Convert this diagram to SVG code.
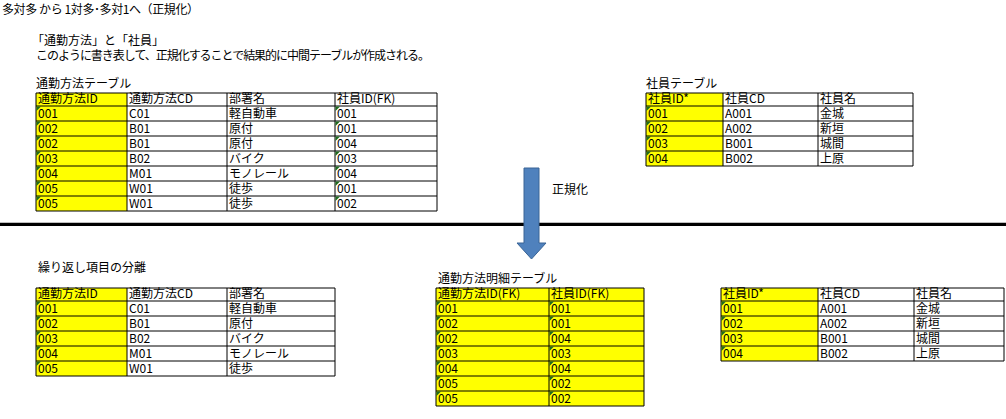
<svg xmlns="http://www.w3.org/2000/svg" width="1006" height="419" viewBox="0 0 1006 419">
<defs>
<style>
text{font-family:"Noto Sans CJK JP","Noto Sans",sans-serif;font-size:12px;fill:#000}
.y{fill:#ffff00}
.g{stroke:#000;stroke-width:1;fill:none}
.tri{fill:#1f6b1f}
</style>
<polygon id="tr" class="tri" points="0.5,0.5 5,0.5 0.5,5"/>
</defs>
<rect width="1006" height="419" fill="#fff"/>
<g id="titles">
<text x="2" y="14" textLength="197" lengthAdjust="spacing">多対多 から 1対多･多対1へ（正規化）</text>
<text x="32" y="45">「通勤方法」と「社員」</text>
<text x="36" y="60" textLength="394" lengthAdjust="spacing">このように書き表して、正規化することで結果的に中間テーブルが作成される。</text>
<text x="36" y="88">通勤方法テーブル</text>
<text x="646" y="88">社員テーブル</text>
<text x="38" y="272">繰り返し項目の分離</text>
<text x="438" y="283">通勤方法明細テーブル</text>
</g>
<g id="table-tsukin">
<rect class="y" x="36" y="93" width="91" height="118"/>
<path class="g" d="M36,93H437V211H36Z M127,93V211 M227,93V211 M335,93V211 M36,106H437 M36,121H437 M36,136H437 M36,151H437 M36,166H437 M36,181H437 M36,196H437"/>
<g>
<use href="#tr" x="36" y="106"/><use href="#tr" x="36" y="121"/><use href="#tr" x="36" y="136"/><use href="#tr" x="36" y="151"/><use href="#tr" x="36" y="166"/><use href="#tr" x="36" y="181"/><use href="#tr" x="36" y="196"/>
<use href="#tr" x="335" y="106"/><use href="#tr" x="335" y="121"/><use href="#tr" x="335" y="136"/><use href="#tr" x="335" y="151"/><use href="#tr" x="335" y="166"/><use href="#tr" x="335" y="181"/><use href="#tr" x="335" y="196"/>
</g>
<text x="38" y="103">通勤方法ID</text><text x="129" y="103">通勤方法CD</text><text x="229" y="103">部署名</text><text x="337" y="103">社員ID(FK)</text>
<text x="38" y="118">001</text><text x="129" y="118">C01</text><text x="229" y="118">軽自動車</text><text x="337" y="118">001</text>
<text x="38" y="133">002</text><text x="129" y="133">B01</text><text x="229" y="133">原付</text><text x="337" y="133">001</text>
<text x="38" y="148">002</text><text x="129" y="148">B01</text><text x="229" y="148">原付</text><text x="337" y="148">004</text>
<text x="38" y="163">003</text><text x="129" y="163">B02</text><text x="229" y="163">バイク</text><text x="337" y="163">003</text>
<text x="38" y="178">004</text><text x="129" y="178">M01</text><text x="229" y="178">モノレール</text><text x="337" y="178">004</text>
<text x="38" y="193">005</text><text x="129" y="193">W01</text><text x="229" y="193">徒歩</text><text x="337" y="193">001</text>
<text x="38" y="208">005</text><text x="129" y="208">W01</text><text x="229" y="208">徒歩</text><text x="337" y="208">002</text>
</g>
<g id="table-shain">
<rect class="y" x="646" y="93" width="77" height="73"/>
<path class="g" d="M646,93H913V166H646Z M723,93V166 M818,93V166 M646,106H913 M646,121H913 M646,136H913 M646,151H913"/>
<use href="#tr" x="646" y="106"/><use href="#tr" x="646" y="121"/><use href="#tr" x="646" y="136"/><use href="#tr" x="646" y="151"/>
<text x="648" y="103">社員ID*</text><text x="725" y="103">社員CD</text><text x="820" y="103">社員名</text>
<text x="648" y="118">001</text><text x="725" y="118">A001</text><text x="820" y="118">金城</text>
<text x="648" y="133">002</text><text x="725" y="133">A002</text><text x="820" y="133">新垣</text>
<text x="648" y="148">003</text><text x="725" y="148">B001</text><text x="820" y="148">城間</text>
<text x="648" y="163">004</text><text x="725" y="163">B002</text><text x="820" y="163">上原</text>
</g>
<line id="separator" x1="0" y1="224.3" x2="1006" y2="224.3" stroke="#000" stroke-width="3.3"/>
<g id="connectors">
<polygon points="524,168 539,168 539,243 546,243 531.5,259 517,243 524,243" fill="#4f81bd" stroke="#3a6596" stroke-width="1"/>
<text x="552" y="194">正規化</text>
</g>
<g id="table-tsukin-bunri">
<rect class="y" x="36" y="288" width="91" height="88"/>
<path class="g" d="M36,288H335V376H36Z M127,288V376 M227,288V376 M36,301H335 M36,316H335 M36,331H335 M36,346H335 M36,361H335"/>
<use href="#tr" x="36" y="301"/><use href="#tr" x="36" y="316"/><use href="#tr" x="36" y="331"/><use href="#tr" x="36" y="346"/><use href="#tr" x="36" y="361"/>
<text x="38" y="298">通勤方法ID</text><text x="129" y="298">通勤方法CD</text><text x="229" y="298">部署名</text>
<text x="38" y="313">001</text><text x="129" y="313">C01</text><text x="229" y="313">軽自動車</text>
<text x="38" y="328">002</text><text x="129" y="328">B01</text><text x="229" y="328">原付</text>
<text x="38" y="343">003</text><text x="129" y="343">B02</text><text x="229" y="343">バイク</text>
<text x="38" y="358">004</text><text x="129" y="358">M01</text><text x="229" y="358">モノレール</text>
<text x="38" y="373">005</text><text x="129" y="373">W01</text><text x="229" y="373">徒歩</text>
</g>
<g id="table-meisai">
<rect class="y" x="436" y="288" width="208" height="118"/>
<path class="g" d="M436,288H644V406H436Z M549,288V406 M436,301H644 M436,316H644 M436,331H644 M436,346H644 M436,361H644 M436,376H644 M436,391H644"/>
<use href="#tr" x="436" y="301"/><use href="#tr" x="436" y="316"/><use href="#tr" x="436" y="331"/><use href="#tr" x="436" y="346"/><use href="#tr" x="436" y="361"/><use href="#tr" x="436" y="376"/><use href="#tr" x="436" y="391"/>
<use href="#tr" x="549" y="301"/><use href="#tr" x="549" y="316"/><use href="#tr" x="549" y="331"/><use href="#tr" x="549" y="346"/><use href="#tr" x="549" y="361"/><use href="#tr" x="549" y="376"/><use href="#tr" x="549" y="391"/>
<text x="438" y="298">通勤方法ID(FK)</text><text x="551" y="298">社員ID(FK)</text>
<text x="438" y="313">001</text><text x="551" y="313">001</text>
<text x="438" y="328">002</text><text x="551" y="328">001</text>
<text x="438" y="343">002</text><text x="551" y="343">004</text>
<text x="438" y="358">003</text><text x="551" y="358">003</text>
<text x="438" y="373">004</text><text x="551" y="373">004</text>
<text x="438" y="388">005</text><text x="551" y="388">002</text>
<text x="438" y="403">005</text><text x="551" y="403">002</text>
</g>
<g id="table-shain-2">
<rect class="y" x="721" y="288" width="97" height="73"/>
<path class="g" d="M721,288H1004V361H721Z M818,288V361 M914,288V361 M721,301H1004 M721,316H1004 M721,331H1004 M721,346H1004"/>
<use href="#tr" x="721" y="301"/><use href="#tr" x="721" y="316"/><use href="#tr" x="721" y="331"/><use href="#tr" x="721" y="346"/>
<text x="723" y="298">社員ID*</text><text x="820" y="298">社員CD</text><text x="916" y="298">社員名</text>
<text x="723" y="313">001</text><text x="820" y="313">A001</text><text x="916" y="313">金城</text>
<text x="723" y="328">002</text><text x="820" y="328">A002</text><text x="916" y="328">新垣</text>
<text x="723" y="343">003</text><text x="820" y="343">B001</text><text x="916" y="343">城間</text>
<text x="723" y="358">004</text><text x="820" y="358">B002</text><text x="916" y="358">上原</text>
</g>
</svg>
